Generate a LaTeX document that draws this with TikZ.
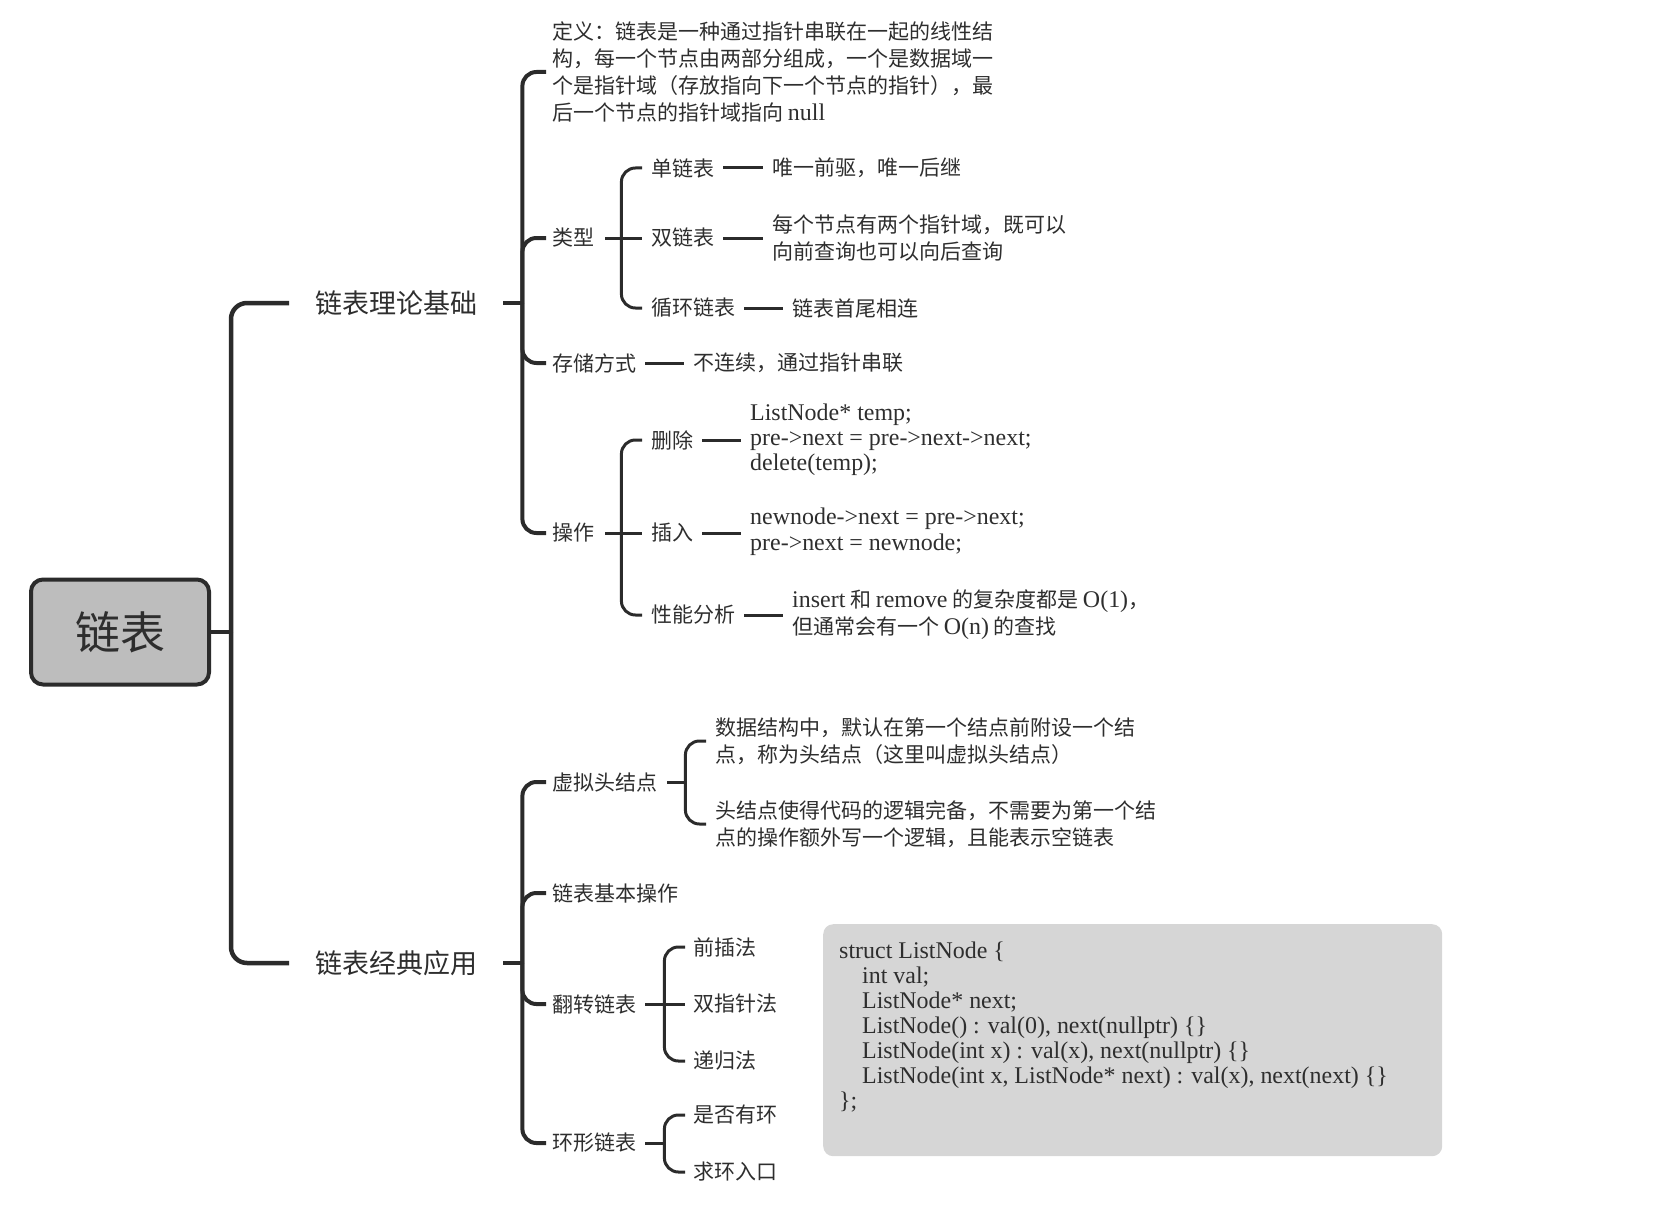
\documentclass[tikz,border=0pt]{standalone}
\usepackage{fontspec}
\setmainfont{Noto Sans CJK SC}
\newfontfamily\lat[Scale=1.14]{Liberation Serif}
\definecolor{ln}{HTML}{2B2B2B}
\definecolor{txt}{HTML}{2E2E2E}
\definecolor{rootfill}{HTML}{BDBDBD}
\definecolor{codefill}{HTML}{D6D6D6}
\begin{document}
\begin{tikzpicture}[x=1pt,y=-1pt,
  every node/.style={text=txt},
  tx/.style={anchor=west, inner sep=0pt, align=left, font=\fontsize{21}{26.75}\selectfont},
  lone/.style={anchor=west, inner xsep=26pt, inner ysep=4pt, font=\fontsize{27}{32}\selectfont},
  rootbox/.style={draw=ln, line width=4pt, fill=rootfill, rounded corners=12pt, minimum width=178pt, minimum height=105pt, font=\fontsize{45}{50}\selectfont},
  ca/.style={line width=4.5pt, draw=ln},
  cb/.style={line width=4pt, draw=ln},
  cc/.style={line width=3pt, draw=ln},
]
\useasboundingbox (0,0) rectangle (1678,1209);

% nodes
\node[rootbox] (r) at (120,632) {链表};
\node[lone] (n1) at (289,303) {链表理论基础};
\node[lone] (n2) at (289,963) {链表经典应用};

\node[tx] (def) at (552,72) {定义：链表是一种通过指针串联在一起的线性结\\构，每一个节点由两部分组成，一个是数据域一\\个是指针域（存放指向下一个节点的指针），最\\后一个节点的指针域指向 {\lat null}};
\node[tx] (lx) at (552,238) {类型};
\node[tx] (d1) at (651,168) {单链表};
\node[tx] (d1t) at (772,168) {唯一前驱，唯一后继};
\node[tx] (d2) at (651,238) {双链表};
\node[tx] (d2t) at (772,238) {每个节点有两个指针域，既可以\\向前查询也可以向后查询};
\node[tx] (d3) at (651,308) {循环链表};
\node[tx] (d3t) at (792,308) {链表首尾相连};
\node[tx] (cs) at (552,363) {存储方式};
\node[tx] (cst) at (693,363) {不连续，通过指针串联};
\node[tx] (op) at (552,533) {操作};
\node[tx] (o1) at (651,440) {删除};
\node[tx, font=\lat\fontsize{21}{25}\selectfont] (o1t) at (750,440) {ListNode* temp;\\pre->next = pre->next->next;\\delete(temp);};
\node[tx] (o2) at (651,533) {插入};
\node[tx, font=\lat\fontsize{21}{26}\selectfont] (o2t) at (750,532) {newnode->next = pre->next;\\pre->next = newnode;};
\node[tx] (o3) at (651,615) {性能分析};
\node[tx] (o3t) at (792,615) {{\lat insert} 和 {\lat remove} 的复杂度都是 {\lat O(1)}，\\但通常会有一个 {\lat O(n)} 的查找};

\node[tx] (v) at (552,782) {虚拟头结点};
\node[tx] (v1) at (715,741) {数据结构中，默认在第一个结点前附设一个结\\点，称为头结点（这里叫虚拟头结点）};
\node[tx] (v2) at (715,824) {头结点使得代码的逻辑完备，不需要为第一个结\\点的操作额外写一个逻辑，且能表示空链表};
\node[tx] (jb) at (552,893) {链表基本操作};
\node[tx] (fz) at (552,1004) {翻转链表};
\node[tx] (f1) at (693,947) {前插法};
\node[tx] (f2) at (693,1004) {双指针法};
\node[tx] (f3) at (693,1061) {递归法};
\node[tx] (hx) at (552,1143) {环形链表};
\node[tx] (h1) at (693,1115) {是否有环};
\node[tx] (h2) at (693,1172) {求环入口};

\node[anchor=north west, fill=codefill, rounded corners=10pt, inner xsep=16pt, inner ysep=0pt, font=\lat\fontsize{21}{25}\selectfont] (code) at (823,924) {\begin{minipage}[c][232pt][t]{587pt}\vspace*{18pt}struct ListNode \{\\\hspace*{23pt}int val;\\\hspace*{23pt}ListNode* next;\\\hspace*{23pt}ListNode() : val(0), next(nullptr) \{\}\\\hspace*{23pt}ListNode(int x) : val(x), next(nullptr) \{\}\\\hspace*{23pt}ListNode(int x, ListNode* next) : val(x), next(next) \{\}\\\};\end{minipage}};

% root connectors
\coordinate (j0) at ([xshift=20pt]r.east);
\draw[ca] (r.east) -- (j0);
\draw[ca, rounded corners=16pt] (j0) |- (n1.west);
\draw[ca, rounded corners=16pt] (j0) |- (n2.west);

% n1
\coordinate (j1) at ([xshift=19pt]n1.east);
\draw[cb] (n1.east) -- (j1);
\foreach \c in {def,lx,cs,op}{\draw[cb, rounded corners=14pt, shorten >=6pt] (j1) |- (\c.west);}

% n2
\coordinate (j2) at ([xshift=19pt]n2.east);
\draw[cb] (n2.east) -- (j2);
\foreach \c in {v,jb,fz,hx}{\draw[cb, rounded corners=14pt, shorten >=6pt] (j2) |- (\c.west);}

% types
\coordinate (jlx) at ([xshift=27pt]lx.east);
\draw[cc, shorten <=11pt] (lx.east) -- (jlx);
\draw[cc, rounded corners=14pt, shorten >=9pt] (jlx) |- (d1.west);
\draw[cc, shorten >=9pt] (jlx) -- (d2.west);
\draw[cc, rounded corners=14pt, shorten >=9pt] (jlx) |- (d3.west);

% operations
\coordinate (jop) at ([xshift=27pt]op.east);
\draw[cc, shorten <=11pt] (op.east) -- (jop);
\draw[cc, rounded corners=14pt, shorten >=9pt] (jop) |- (o1.west);
\draw[cc, shorten >=9pt] (jop) -- (o2.west);
\draw[cc, rounded corners=14pt, shorten >=9pt] (jop) |- (o3.west);

% horizontal links
\foreach \a/\b in {d1/d1t,d2/d2t,d3/d3t,cs/cst,o1/o1t,o2/o2t,o3/o3t}{
  \draw[cc, shorten <=9pt, shorten >=9pt] (\a.east) -- (\a.east -| \b.west);}

% virtual head
\coordinate (jv) at ([xshift=28pt]v.east);
\draw[cc, shorten <=10pt] (v.east) -- (jv);
\draw[cc, rounded corners=14pt, shorten >=9pt] (jv) |- (v1.west);
\draw[cc, rounded corners=14pt, shorten >=9pt] (jv) |- (v2.west);

% reverse
\coordinate (jfz) at ([xshift=28pt]fz.east);
\draw[cc, shorten <=9pt] (fz.east) -- (jfz);
\draw[cc, rounded corners=14pt, shorten >=8pt] (jfz) |- (f1.west);
\draw[cc, shorten >=8pt] (jfz) -- (f2.west);
\draw[cc, rounded corners=14pt, shorten >=8pt] (jfz) |- (f3.west);

% ring
\coordinate (jhx) at ([xshift=28pt]hx.east);
\draw[cc, shorten <=9pt] (hx.east) -- (jhx);
\draw[cc, rounded corners=14pt, shorten >=8pt] (jhx) |- (h1.west);
\draw[cc, rounded corners=14pt, shorten >=8pt] (jhx) |- (h2.west);
\end{tikzpicture}
\end{document}
